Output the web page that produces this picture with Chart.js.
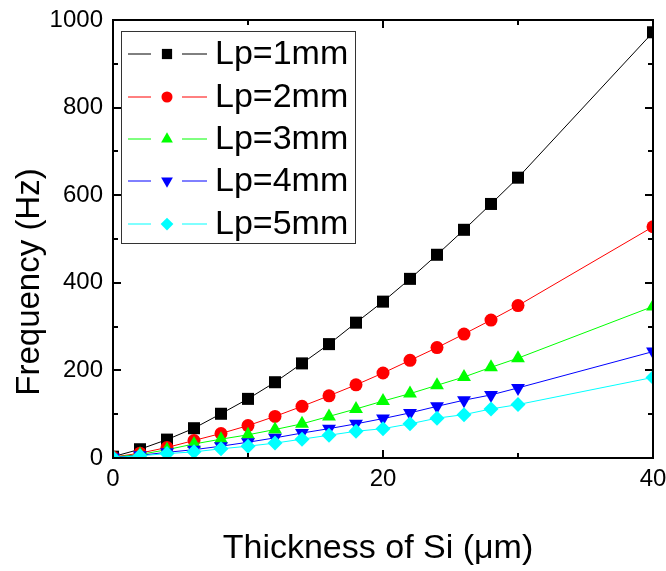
<!DOCTYPE html>
<html>
<head>
<meta charset="utf-8">
<script src="https://cdn.jsdelivr.net/npm/chart.js@4/dist/chart.umd.min.js"></script>
<style>
  html, body { margin: 0; padding: 0; background: #fff; }
  #wrap { width: 666px; height: 571px; position: relative; }
</style>
</head>
<body>
<div id="wrap"><canvas id="c" width="666" height="571"></canvas></div>
<script>
// ---- data ----
const thickness = [0, 2, 4, 6, 8, 10, 12, 14, 16, 18, 20, 22, 24, 26, 28, 30, 40];
const lp1 = [3, 20, 42, 68, 101, 135, 173, 216, 260, 309, 357, 409, 464, 521, 580, 640, 972];
const lp2 = [2, 11, 24, 40, 56, 74, 95, 118, 142, 167, 194, 223, 252, 283, 315, 348, 528];
const lp3 = [2, 8, 19, 32, 43, 53, 65, 78, 95, 112, 130, 147, 166, 185, 207, 228, 346];
const lp4 = [1, 6, 13, 19, 27, 36, 46, 57, 67, 78, 90, 103, 118, 132, 144, 160, 243];
const lp5 = [1, 5, 10, 14, 21, 27, 34, 43, 52, 61, 67, 78, 91, 99, 112, 122, 184];
const seriesNames = ['Lp=1mm', 'Lp=2mm', 'Lp=3mm', 'Lp=4mm', 'Lp=5mm'];
const xTicks = [0, 20, 40];
const xMinorTicks = [10, 30];
const yTicks = [0, 200, 400, 600, 800, 1000];
const yMinorTicks = [100, 300, 500, 700, 900];
const xTitle = 'Thickness of Si (\u03BCm)';
const yTitle = 'Frequency (Hz)';

const FONT = '"Liberation Sans", Arial, sans-serif';

function pts(ys) { return thickness.map((x, i) => ({ x: x, y: ys[i] })); }

const styles = [
  { color: '#000000', style: 'rect', radius: 8.5, rot: 0 },
  { color: '#ff0000', style: 'circle', radius: 6.5, rot: 0 },
  { color: '#00ff00', style: 'triangle', radius: 8, rot: 0 },
  { color: '#0000ff', style: 'triangle', radius: 8, rot: 180 },
  { color: '#00ffff', style: 'rectRot', radius: 7.5, rot: 0 }
];
const allSeries = [lp1, lp2, lp3, lp4, lp5];

const datasets = allSeries.map((ys, i) => ({
  label: seriesNames[i],
  data: pts(ys),
  showLine: true,
  borderColor: styles[i].color,
  backgroundColor: styles[i].color,
  borderWidth: 1,
  pointStyle: styles[i].style,
  pointRadius: styles[i].radius,
  pointRotation: styles[i].rot,
  pointBorderWidth: 0,
  pointHoverRadius: styles[i].radius,
  tension: 0,
  clip: 0,
  order: 5 - i
}));

const framePlugin = {
  id: 'frame',
  afterDatasetsDraw(chart) {
    const ctx = chart.ctx;
    const a = chart.chartArea;
    const xs = chart.scales.x, ys = chart.scales.y;
    ctx.save();
    ctx.strokeStyle = '#000';
    ctx.lineWidth = 2;
    ctx.strokeRect(a.left, a.top, a.right - a.left, a.bottom - a.top);
    ctx.lineWidth = 2;
    ctx.beginPath();
    const major = 8, minor = 5;
    xTicks.forEach(v => {
      const p = Math.round(xs.getPixelForValue(v));
      ctx.moveTo(p, a.bottom); ctx.lineTo(p, a.bottom - major);
      ctx.moveTo(p, a.top); ctx.lineTo(p, a.top + major);
    });
    xMinorTicks.forEach(v => {
      const p = Math.round(xs.getPixelForValue(v));
      ctx.moveTo(p, a.bottom); ctx.lineTo(p, a.bottom - minor);
      ctx.moveTo(p, a.top); ctx.lineTo(p, a.top + minor);
    });
    yTicks.forEach(v => {
      const p = Math.round(ys.getPixelForValue(v));
      ctx.moveTo(a.left, p); ctx.lineTo(a.left + major, p);
      ctx.moveTo(a.right, p); ctx.lineTo(a.right - major, p);
    });
    yMinorTicks.forEach(v => {
      const p = Math.round(ys.getPixelForValue(v));
      ctx.moveTo(a.left, p); ctx.lineTo(a.left + minor, p);
      ctx.moveTo(a.right, p); ctx.lineTo(a.right - minor, p);
    });
    ctx.stroke();

    // tick labels
    ctx.fillStyle = '#000';
    ctx.font = '24px ' + FONT;
    ctx.textAlign = 'right';
    ctx.textBaseline = 'middle';
    yTicks.forEach(v => {
      ctx.fillText(String(v), a.left - 10, ys.getPixelForValue(v));
    });
    ctx.textAlign = 'center';
    ctx.textBaseline = 'top';
    xTicks.forEach(v => {
      ctx.fillText(String(v), xs.getPixelForValue(v), a.bottom + 9);
    });

    // axis titles
    ctx.font = '34px ' + FONT;
    ctx.textAlign = 'center';
    ctx.textBaseline = 'middle';
    ctx.fillText(xTitle, 378, 549);
    ctx.save();
    ctx.translate(30, 282);
    ctx.rotate(-Math.PI / 2);
    ctx.font = '33px ' + FONT;
    ctx.fillText(yTitle, 0, 0);
    ctx.restore();

    // legend
    const bx = 121, by = 31, bw = 234, bh = 212;
    ctx.fillStyle = '#fff';
    ctx.fillRect(bx, by, bw, bh);
    ctx.strokeStyle = '#333';
    ctx.lineWidth = 1;
    ctx.strokeRect(bx + 0.5, by + 0.5, bw, bh);
    const rows = [54, 97, 139, 181, 224];
    chart.data.datasets.forEach((ds, i) => {
      const y = rows[i];
      const col = styles[i].color;
      ctx.strokeStyle = col;
      ctx.lineWidth = 1;
      ctx.beginPath();
      ctx.moveTo(128, y); ctx.lineTo(151, y);
      ctx.moveTo(182, y); ctx.lineTo(207, y);
      ctx.stroke();
      ctx.fillStyle = col;
      Chart.helpers.drawPoint(ctx, {
        pointStyle: styles[i].style,
        rotation: styles[i].rot,
        radius: styles[i].radius * 0.85,
        borderWidth: 0
      }, 167, y);
      ctx.fillStyle = '#000';
      ctx.font = '34px ' + FONT;
      ctx.textAlign = 'left';
      ctx.textBaseline = 'middle';
      ctx.fillText(ds.label, 215, y + 1);
    });
    ctx.restore();
  }
};

new Chart(document.getElementById('c'), {
  type: 'scatter',
  data: { datasets: datasets },
  options: {
    responsive: false,
    animation: false,
    devicePixelRatio: 1,
    layout: { padding: { left: 113, right: 13, top: 20, bottom: 113 } },
    plugins: { legend: { display: false }, tooltip: { enabled: false } },
    scales: {
      x: { type: 'linear', min: 0, max: 40, display: false },
      y: { type: 'linear', min: 0, max: 1000, display: false }
    }
  },
  plugins: [framePlugin]
});
</script>
</body>
</html>
